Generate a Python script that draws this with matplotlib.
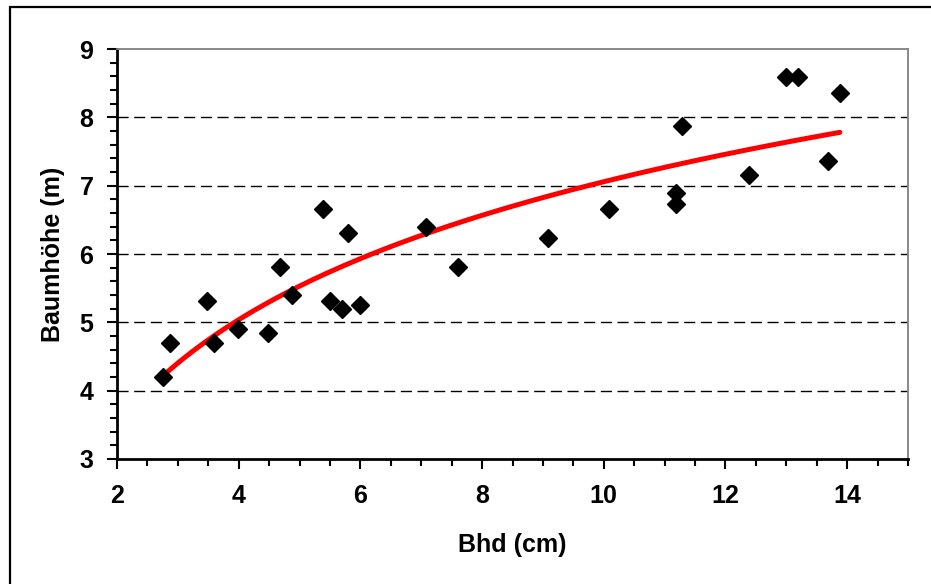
import numpy as np
import matplotlib.pyplot as plt
from matplotlib.patches import Rectangle

# Bhd (cm) and Baumhöhe (m)
bhd = [2.76, 2.87, 3.48, 3.59, 3.99, 4.48, 4.68, 4.88, 5.39, 5.50, 5.70, 5.80, 5.99,
       7.08, 7.60, 9.08, 10.09, 11.19, 11.19, 11.28, 12.39, 12.99, 13.19, 13.68, 13.88]
hoehe = [4.20, 4.70, 5.31, 4.70, 4.90, 4.84, 5.81, 5.40, 6.66, 5.31, 5.19, 6.31, 5.25,
         6.40, 5.81, 6.24, 6.66, 6.90, 6.73, 7.88, 7.15, 8.59, 8.59, 7.36, 8.36]

x_ticks = [2, 4, 6, 8, 10, 12, 14]
y_ticks = [3, 4, 5, 6, 7, 8, 9]

plt.rcParams['font.family'] = 'Liberation Sans'
plt.rcParams['font.weight'] = 'bold'

fig = plt.figure(figsize=(9.31, 5.84), dpi=100)
ax = fig.add_axes([117/931, 1-459/584, (908-117)/931, (459-49)/584])

# outer chart frame (cut off at the right and bottom)
fig.patches.append(Rectangle((10/931, -0.1), 1.2, 1.1 - 7/584, transform=fig.transFigure,
                             fill=False, edgecolor='black', linewidth=1.6, zorder=0))

# log trendline fitted to the points
xa = np.array(bhd)
ya = np.array(hoehe)
k, d = np.polyfit(np.log(xa), ya, 1)
xt = np.linspace(xa.min(), xa.max(), 200)
ax.plot(xt, k*np.log(xt) + d, color='red', linewidth=3.6, zorder=3, solid_capstyle='round')

ax.plot(bhd, hoehe, linestyle='none', marker='D', markersize=9.5, color='black', zorder=4)

ax.set_xlim(2, 15)
ax.set_ylim(3, 9)
ax.set_xticks(x_ticks)
ax.set_yticks(y_ticks)
ax.set_xticks(np.arange(2, 15.01, 0.5), minor=True)
ax.set_yticks(np.arange(3, 9.01, 0.2), minor=True)
ax.tick_params(which='major', direction='out', length=7, width=1.5, labelsize=18, pad=10)
ax.tick_params(which='minor', direction='out', length=5, width=1.5)
ax.tick_params(axis='x', which='major', pad=11)

for yv in y_ticks[1:-1]:
    ax.axhline(yv, color='black', linewidth=1, linestyle=(0, (8, 4)), zorder=1)

ax.spines['left'].set_linewidth(2)
ax.spines['bottom'].set_linewidth(2)
ax.spines['top'].set_color('#808080')
ax.spines['right'].set_color('#808080')
ax.spines['top'].set_linewidth(1.3)
ax.spines['right'].set_linewidth(1.3)

ax.set_xlabel('Bhd (cm)', fontsize=18, fontweight='bold', labelpad=18)
ax.set_ylabel('Baumhöhe (m)', fontsize=18, fontweight='bold', labelpad=10)

fig.savefig('out.png', dpi=100)
